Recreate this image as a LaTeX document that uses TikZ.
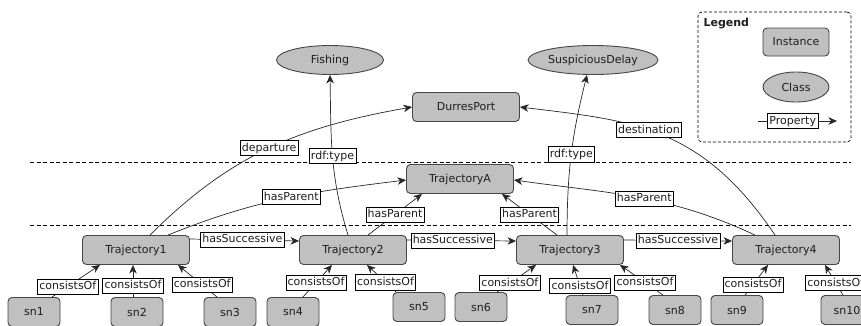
\documentclass[tikz,border=0pt]{standalone}
\usepackage{fontspec}
\setmainfont{DejaVu Sans}
\usetikzlibrary{shapes.geometric, arrows.meta, positioning}
\definecolor{nodegray}{RGB}{192,192,192}
\definecolor{bordergray}{RGB}{70,70,70}
\definecolor{inkgray}{RGB}{30,30,30}

\begin{document}
\begin{tikzpicture}[x=1pt, y=1pt, font=\fontsize{11}{13}\selectfont, text=inkgray,
  inst/.style={draw=bordergray, fill=nodegray, rounded corners=4pt, line width=0.9pt, minimum width=107pt, minimum height=29pt, inner sep=2pt},
  snode/.style={inst, minimum width=52pt},
  cls/.style={ellipse, draw=bordergray, fill=nodegray, line width=0.9pt, minimum width=107pt, minimum height=29pt, inner sep=1pt},
  rel/.style={-{Stealth[length=8.5pt, width=7.5pt, inset=2.5pt]}, line width=0.7pt, draw=black!85},
  lbl/.style={draw=black, fill=white, line width=0.6pt, inner sep=1.8pt, text height=8.8pt, text depth=2.8pt, text=inkgray},
  sep/.style={line width=0.7pt, dash pattern=on 4pt off 2.5pt}]
  \useasboundingbox (0,0) rectangle (861,325);

  % Layer separators
  \draw[sep] (30,163) -- (851,163);
  \draw[sep] (30,100) -- (851,100);

  % Classes and port
  \node[cls] (fishing) at (330,265) {Fishing};
  \node[cls] (delay) at (593,265) {SuspiciousDelay};
  \node[inst] (port) at (466,218) {DurresPort};

  % Parent trajectory
  \node[inst] (trajA) at (460,146) {TrajectoryA};

  % Sub-trajectories
  \node[inst] (traj1) at (136,75) {Trajectory1};
  \node[inst] (traj2) at (353,75) {Trajectory2};
  \node[inst] (traj3) at (570,75) {Trajectory3};
  \node[inst] (traj4) at (786,75) {Trajectory4};

  % Semantic nodes
  \node[snode] (sn1) at (34,13) {sn1};
  \node[snode] (sn2) at (137,13) {sn2};
  \node[snode] (sn3) at (230,13) {sn3};
  \node[snode] (sn4) at (293,13) {sn4};
  \node[snode] (sn5) at (419,18) {sn5};
  \node[snode] (sn6) at (481,18) {sn6};
  \node[snode] (sn7) at (592,15) {sn7};
  \node[snode] (sn8) at (675,15) {sn8};
  \node[snode] (sn9) at (737,15) {sn9};
  \node[snode] (sn10) at (847,15) {sn10};

  % Legend
  \node[draw=black, line width=0.7pt, dash pattern=on 3pt off 2pt, rounded corners=4pt, minimum width=153pt, minimum height=130pt] (legend) at (774.5,248) {};
  \node[font=\fontsize{11}{13}\selectfont\bfseries, anchor=north west] (legtitle) at (700,310) {Legend};
  \node[inst, minimum width=66pt, minimum height=28pt] (leginst) at (796,283) {Instance};
  \node[cls, minimum width=66pt, minimum height=30pt] (legcls) at (796,238) {Class};
  \coordinate (propL) at (758,204);
  \coordinate (propR) at (837,204);
  \draw[rel] (propL) -- node[lbl, pos=0.44] {Property} (propR);

  % Port and type links
  \draw[rel] ([xshift=14pt]traj1.north) to[out=45, in=190] node[lbl, pos=0.5] {departure} (port.west);
  \draw[rel] ([xshift=-11pt]traj4.north) to[out=124, in=-7, out distance=133pt, in distance=112pt] node[lbl, pos=0.55] {destination} (port.east);
  \draw[rel] ([xshift=-5pt]traj2.north) to[out=107, in=-89] node[lbl, pos=0.5] {rdf:type} (fishing.south);
  \draw[rel] ([xshift=-3pt]traj3.north) to[bend left=7] node[lbl, pos=0.5] {rdf:type} ([xshift=-6pt]delay.south);

  % hasParent
  \draw[rel] ([xshift=32pt]traj1.north) to[out=22, in=187] node[lbl, pos=0.53] {hasParent} ([yshift=-1pt]trajA.west);
  \draw[rel] ([xshift=15pt]traj2.north) -- node[lbl, pos=0.5] {hasParent} ([xshift=-38pt]trajA.south);
  \draw[rel] ([xshift=-13pt]traj3.north) -- node[lbl, pos=0.5] {hasParent} ([xshift=42pt]trajA.south);
  \draw[rel] ([xshift=-31pt]traj4.north) to[out=155, in=-8] node[lbl, pos=0.47] {hasParent} ([yshift=-1pt]trajA.east);

  % hasSuccessive
  \draw[rel] ([yshift=11pt]traj1.east) -- node[lbl, pos=0.48] {hasSuccessive} ([yshift=9pt]traj2.west);
  \draw[rel] ([yshift=10pt]traj2.east) -- node[lbl, pos=0.42] {hasSuccessive} ([yshift=9pt]traj3.west);
  \draw[rel] ([yshift=10pt]traj3.east) -- node[lbl, pos=0.5] {hasSuccessive} ([yshift=9pt]traj4.west);

  % consistsOf
  \draw[rel] ([xshift=18pt]sn1.north) -- node[lbl, pos=0.33] {consistsOf} ([xshift=-36pt]traj1.south);
  \draw[rel] ([xshift=-4pt]sn2.north) -- node[lbl, pos=0.35] {consistsOf} ([xshift=-3pt]traj1.south);
  \draw[rel] ([xshift=-13pt]sn3.north) -- node[lbl, pos=0.38] {consistsOf} ([xshift=42pt]traj1.south);
  \draw[rel] ([xshift=10pt]sn4.north) -- node[lbl, pos=0.45] {consistsOf} ([xshift=-21pt]traj2.south);
  \draw[rel] ([xshift=-23pt]sn5.north) -- node[lbl, pos=0.36] {consistsOf} ([xshift=14pt]traj2.south);
  \draw[rel] ([xshift=16pt]sn6.north) -- node[lbl, pos=0.33] {consistsOf} ([xshift=-34pt]traj3.south);
  \draw[rel] ([xshift=-9pt]sn7.north) -- node[lbl, pos=0.3] {consistsOf} ([xshift=3pt]traj3.south);
  \draw[rel] ([xshift=-12pt]sn8.north) -- node[lbl, pos=0.42] {consistsOf} ([xshift=50pt]traj3.south);
  \draw[rel] ([xshift=8pt]sn9.north) -- node[lbl, pos=0.35] {consistsOf} ([xshift=-18pt]traj4.south);
  \draw[rel] ([xshift=-4pt]sn10.north) -- node[lbl, pos=0.4] {consistsOf} ([xshift=39pt]traj4.south);
\end{tikzpicture}
\end{document}
